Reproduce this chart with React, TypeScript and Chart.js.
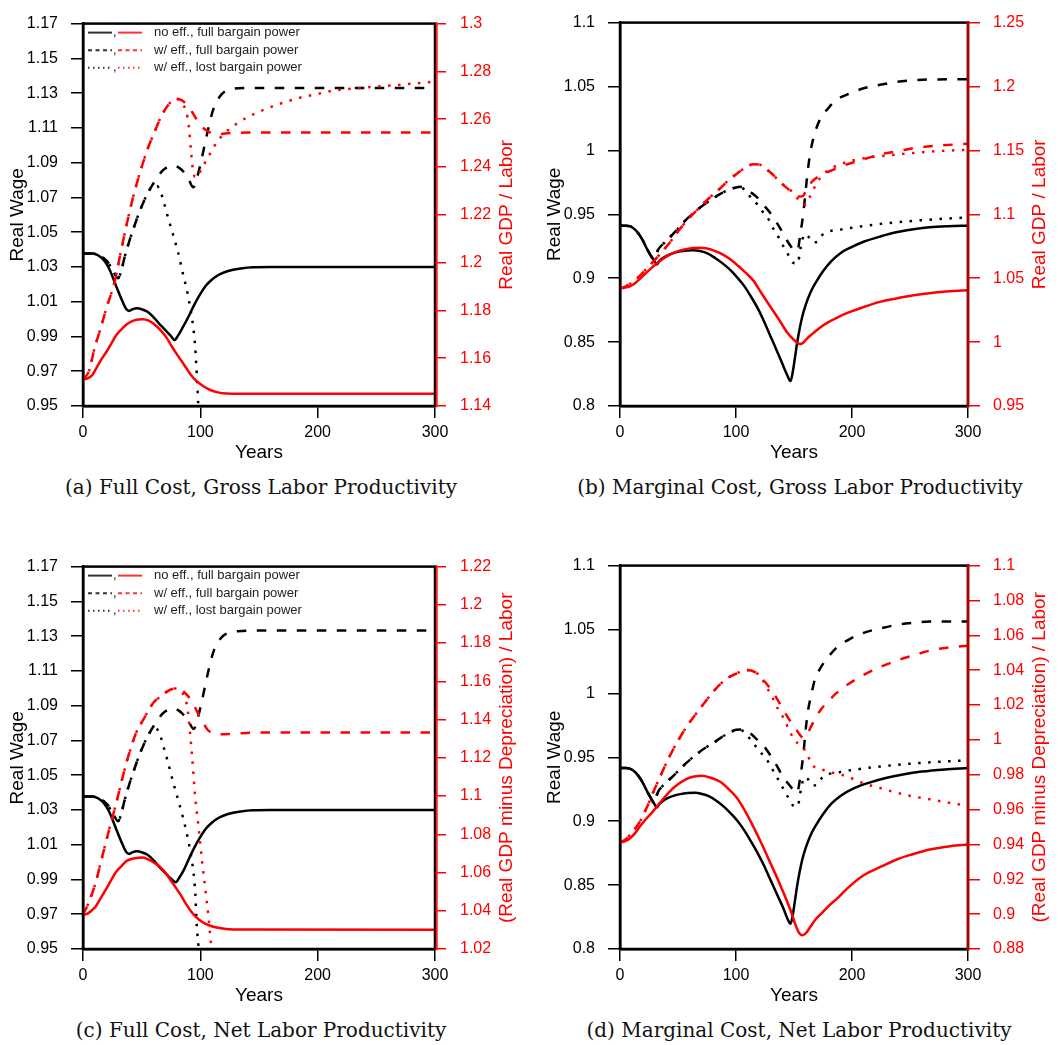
import React, { useEffect, useRef } from "react";
import { Chart, registerables } from "chart.js";

Chart.register(...registerables);

type Pt = [number, number];

// ---------- ticks ----------
const X_TICKS = [0, 100, 200, 300];
const A_LEFT_TICKS = [0.95, 0.97, 0.99, 1.01, 1.03, 1.05, 1.07, 1.09, 1.11, 1.13, 1.15, 1.17];
const A_RIGHT_TICKS = [1.14, 1.16, 1.18, 1.2, 1.22, 1.24, 1.26, 1.28, 1.3];
const B_LEFT_TICKS = [0.8, 0.85, 0.9, 0.95, 1, 1.05, 1.1];
const B_RIGHT_TICKS = [0.95, 1, 1.05, 1.1, 1.15, 1.2, 1.25];
const C_LEFT_TICKS = [0.95, 0.97, 0.99, 1.01, 1.03, 1.05, 1.07, 1.09, 1.11, 1.13, 1.15, 1.17];
const C_RIGHT_TICKS = [1.02, 1.04, 1.06, 1.08, 1.1, 1.12, 1.14, 1.16, 1.18, 1.2, 1.22];
const D_LEFT_TICKS = [0.8, 0.85, 0.9, 0.95, 1, 1.05, 1.1];
const D_RIGHT_TICKS = [0.88, 0.9, 0.92, 0.94, 0.96, 0.98, 1, 1.02, 1.04, 1.06, 1.08, 1.1];

const LEGEND_LABELS = ["no eff., full bargain power", "w/ eff., full bargain power", "w/ eff., lost bargain power"];

// ---------- (a) Full Cost, Gross Labor Productivity ----------
const aWageNoEff: Pt[] = [[0,1.0377],[8,1.0377],[11,1.0372],[14,1.0362],[17,1.0345],[20,1.0318],[23,1.028],[28,1.0195],[33,1.0112],[37,1.0056],[39.5,1.0047],[42,1.0056],[46,1.0062],[50,1.0057],[55,1.0042],[60,1.0012],[65,0.9973],[70,0.9938],[75,0.9902],[78,0.988],[81,0.9905],[85,0.9952],[90,1.0015],[95,1.0085],[100,1.0145],[105,1.0195],[110,1.0228],[115,1.0252],[120,1.0268],[128,1.0284],[136,1.0293],[145,1.0298],[160,1.03],[300,1.03]];
const aWageEffFull: Pt[] = [[0,1.0377],[8,1.0377],[12,1.0372],[15,1.0362],[18,1.0348],[21,1.033],[24,1.0295],[27,1.026],[30,1.0235],[33,1.029],[36,1.037],[40,1.046],[44,1.054],[48,1.0615],[52,1.068],[56,1.0735],[60,1.078],[64,1.0822],[68,1.0855],[72,1.0875],[77,1.0885],[82,1.087],[86,1.0845],[90,1.0805],[94,1.0758],[97,1.081],[100,1.0887],[103,1.098],[106,1.1073],[109,1.116],[112,1.1225],[116,1.1275],[120,1.1305],[125,1.132],[132,1.1328],[150,1.133],[300,1.133]];
const aWageEffLost: Pt[] = [[0,1.0377],[8,1.0377],[12,1.0372],[15,1.0362],[18,1.0348],[21,1.033],[24,1.0295],[27,1.026],[30,1.0235],[33,1.029],[36,1.037],[40,1.046],[44,1.054],[48,1.0615],[52,1.068],[56,1.0735],[60,1.0765],[63,1.0765],[66,1.0735],[69,1.067],[72,1.0595],[77,1.048],[81,1.0386],[85,1.0266],[89,1.0152],[92,1.004],[94,0.995],[95.5,0.985],[96.6,0.973],[97.5,0.961],[98.3,0.95],[100,0.93],[102,0.9]];
const aProdNoEff: Pt[] = [[0,1.1512],[4,1.1516],[8,1.153],[11,1.1555],[15,1.159],[20,1.1627],[24,1.166],[28,1.1694],[33,1.1722],[37,1.1741],[42,1.1755],[47,1.1762],[51,1.1763],[56,1.1757],[62.5,1.1735],[67,1.1712],[71,1.1687],[75,1.1655],[79.5,1.162],[84,1.1588],[88,1.1559],[92,1.153],[96.6,1.1505],[102,1.1485],[108,1.1468],[114,1.1458],[122,1.1452],[135,1.1451],[300,1.1451]];
const aProdEffFull: Pt[] = [[0,1.1512],[5,1.1545],[10,1.1645],[15,1.1725],[20,1.181],[27,1.192],[32,1.204],[37,1.2155],[43,1.228],[50,1.24],[55,1.2475],[60,1.2535],[66,1.2605],[72,1.2655],[79,1.2686],[84,1.268],[88.6,1.2659],[93,1.263],[97,1.2598],[101,1.257],[106,1.2551],[110,1.254],[114,1.2537],[123,1.2541],[140,1.2544],[300,1.2544]];
const aProdEffLost: Pt[] = [[0,1.1512],[5,1.1545],[10,1.1645],[15,1.1725],[20,1.181],[27,1.192],[32,1.204],[37,1.2155],[43,1.228],[50,1.24],[55,1.2475],[60,1.2535],[66,1.2605],[72,1.2655],[79,1.2686],[84,1.267],[87,1.2645],[89,1.261],[90.5,1.2555],[92,1.247],[93.5,1.2395],[95.5,1.2358],[97.5,1.2358],[100,1.2382],[103,1.241],[106,1.2436],[110,1.247],[114,1.2504],[120,1.2538],[128,1.2571],[140,1.2608],[157,1.2645],[170,1.2668],[185,1.269],[200,1.2706],[213,1.2719],[242,1.2733],[270,1.2744],[300,1.2757]];

// ---------- (b) Marginal Cost, Gross Labor Productivity ----------
const bWageNoEff: Pt[] = [[0,0.9411],[5,0.9411],[9,0.9405],[13,0.938],[17,0.9335],[20,0.929],[23,0.9234],[26,0.9185],[29,0.9146],[31.6,0.9108],[34,0.9135],[37,0.9158],[41,0.9178],[46,0.9196],[52,0.921],[58,0.9217],[63,0.9219],[68,0.9214],[75,0.9196],[82,0.9158],[89,0.9112],[95,0.9065],[101,0.9007],[107,0.894],[113,0.8855],[119,0.876],[124,0.8665],[130,0.854],[135,0.8437],[140,0.833],[144,0.8245],[147,0.8195],[149,0.827],[151,0.839],[153,0.851],[155,0.861],[157,0.8695],[160,0.879],[164,0.8885],[169,0.897],[175,0.9055],[182,0.9132],[190,0.9196],[200,0.9245],[210,0.9285],[225,0.9328],[239,0.9361],[253,0.9383],[267,0.9399],[283,0.9407],[300,0.9411]];
const bWageEffFull: Pt[] = [[0,0.9411],[5,0.9411],[9,0.9405],[13,0.938],[17,0.9335],[20,0.929],[23,0.9234],[26,0.9185],[29,0.9146],[33,0.9225],[39,0.9285],[46,0.9348],[52,0.9408],[57.5,0.9462],[64,0.9515],[70.5,0.9563],[78,0.961],[85,0.9652],[92,0.9685],[100,0.971],[104,0.9715],[108,0.9705],[112,0.9677],[118,0.9635],[125,0.956],[130,0.9505],[135,0.9437],[140,0.936],[144,0.9295],[148,0.924],[151,0.9212],[153,0.9215],[155.5,0.935],[158,0.9505],[160,0.968],[162,0.985],[164,0.998],[167,1.0105],[172,1.0235],[180,1.0335],[187,1.0398],[198,1.0445],[210,1.0486],[225,1.0515],[239,1.0537],[253,1.0548],[267,1.0555],[300,1.0556]];
const bWageEffLost: Pt[] = [[0,0.9411],[5,0.9411],[9,0.9405],[13,0.938],[17,0.9335],[20,0.929],[23,0.9234],[26,0.9185],[29,0.9146],[33,0.9225],[39,0.9285],[46,0.9348],[52,0.9408],[57.5,0.9462],[64,0.9515],[70.5,0.9563],[78,0.961],[85,0.9652],[92,0.9685],[100,0.971],[104,0.9712],[108,0.9685],[112,0.964],[118.5,0.9576],[123,0.952],[128,0.9462],[132,0.939],[136.5,0.9323],[141,0.9247],[145,0.9184],[149,0.9122],[153,0.9115],[156,0.925],[159,0.9345],[162,0.933],[166,0.928],[170,0.9285],[174,0.9335],[180,0.9365],[190,0.938],[200,0.9395],[224,0.9424],[253,0.9449],[275,0.9463],[300,0.9475]];
const bProdNoEff: Pt[] = [[0,1.0423],[4,1.0426],[8.6,1.0436],[13,1.046],[17,1.0494],[23,1.0545],[29,1.0595],[36,1.0645],[43,1.0684],[50,1.0712],[57.5,1.0728],[63,1.0736],[69,1.0739],[75,1.0733],[81,1.0716],[88,1.0688],[95,1.0648],[102,1.0595],[108,1.0545],[115,1.0481],[122,1.0382],[129.5,1.0279],[137,1.0177],[144,1.0077],[149,1.0025],[152,1.0],[155,0.9985],[158,0.9995],[161,1.0026],[166,1.0066],[172.6,1.0115],[180,1.0158],[188,1.0195],[196,1.0228],[210,1.0275],[224,1.0315],[240,1.0345],[253,1.0367],[270,1.0387],[285,1.0398],[300,1.0405]];
const bProdEffFull: Pt[] = [[0,1.0423],[4,1.0432],[8.6,1.0456],[13,1.0485],[17,1.0519],[23,1.0575],[29,1.0633],[36,1.0705],[43,1.078],[50,1.0865],[57.5,1.095],[65,1.102],[72,1.1085],[79,1.1145],[86,1.12],[93,1.1262],[100.7,1.1318],[108,1.1365],[115,1.1392],[120,1.139],[124,1.1367],[130,1.1325],[138,1.1253],[144,1.1205],[150,1.1164],[155,1.1139],[158,1.1145],[161,1.1202],[166,1.126],[172.6,1.1303],[180,1.1335],[196,1.1392],[210,1.143],[224,1.1468],[240,1.1495],[253,1.1518],[275,1.1538],[300,1.1552]];
const bProdEffLost: Pt[] = [[0,1.0423],[4,1.0432],[8.6,1.0456],[13,1.0485],[17,1.0519],[23,1.0575],[29,1.0633],[36,1.0705],[43,1.078],[50,1.0865],[57.5,1.095],[65,1.102],[72,1.1085],[79,1.1145],[86,1.12],[93,1.1262],[100.7,1.1318],[108,1.1365],[115,1.1392],[120,1.139],[124,1.1367],[130,1.1325],[138,1.1253],[144,1.1205],[148,1.118],[152,1.1135],[155,1.1105],[158,1.108],[160,1.1075],[162,1.11],[164,1.1145],[167,1.12],[172.6,1.1285],[180,1.1348],[190,1.1392],[200,1.142],[215,1.1445],[230,1.146],[253,1.148],[275,1.1495],[300,1.1505]];

// ---------- (c) Full Cost, Net Labor Productivity ----------
const cWageNoEff: Pt[] = [[0,1.0377],[8,1.0377],[11,1.0372],[14,1.0362],[17,1.0345],[20,1.0318],[23,1.028],[28,1.0195],[33,1.0112],[37,1.0056],[39.5,1.0047],[42,1.0056],[46,1.0062],[50,1.0057],[55,1.0042],[60,1.0012],[65,0.9973],[70,0.9938],[75,0.9905],[79,0.9884],[82,0.991],[86,0.9955],[90,1.0015],[95,1.0085],[100,1.0145],[105,1.0195],[110,1.0228],[115,1.0252],[120,1.0268],[128,1.0284],[136,1.0293],[145,1.0298],[160,1.03],[300,1.03]];
const cWageEffFull: Pt[] = [[0,1.0377],[8,1.0377],[12,1.0372],[15,1.0362],[18,1.0348],[21,1.033],[24,1.0295],[27,1.026],[30,1.0235],[33,1.029],[36,1.037],[40,1.046],[44,1.054],[48,1.0615],[52,1.068],[56,1.0735],[60,1.078],[64,1.0822],[68,1.0855],[72,1.0875],[77,1.0885],[82,1.087],[86,1.0845],[90,1.0808],[94.5,1.0765],[97,1.081],[100,1.0887],[103,1.098],[106,1.1073],[109,1.116],[112,1.1225],[116,1.1275],[120,1.1305],[125,1.132],[132,1.1328],[150,1.1333],[300,1.1333]];
const cWageEffLost: Pt[] = [[0,1.0377],[8,1.0377],[12,1.0372],[15,1.0362],[18,1.0348],[21,1.033],[24,1.0295],[27,1.026],[30,1.0235],[33,1.029],[36,1.037],[40,1.046],[44,1.054],[48,1.0615],[52,1.068],[56,1.0735],[60,1.0768],[63,1.0765],[66,1.0725],[69,1.0655],[72,1.0585],[77,1.0455],[81,1.036],[85,1.0262],[89,1.0148],[92,1.004],[94,0.995],[95.7,0.982],[97,0.9626],[98.5,0.951],[100,0.93],[102,0.9]];
const cProdNoEff: Pt[] = [[0,1.0378],[4,1.0385],[8,1.0405],[11,1.0424],[15,1.0465],[20,1.0517],[24,1.056],[28,1.0601],[33,1.0635],[37,1.066],[42,1.0672],[47,1.0677],[51,1.0678],[56,1.0668],[62.5,1.0644],[67,1.0622],[71,1.0593],[75,1.0557],[79.5,1.0517],[84,1.0475],[88,1.0433],[92,1.0398],[96.6,1.0365],[102,1.034],[108,1.0323],[114,1.0312],[122,1.0305],[135,1.0302],[300,1.0301]];
const cProdEffFull: Pt[] = [[0,1.0378],[4,1.043],[8,1.0495],[11,1.0551],[15,1.065],[20,1.077],[24,1.0865],[28,1.0955],[33,1.108],[37,1.1175],[41,1.1255],[45,1.1327],[50,1.1385],[54,1.1428],[58,1.147],[61,1.1495],[66,1.152],[71.5,1.1546],[76,1.156],[80,1.1563],[84,1.1555],[88.6,1.1529],[93,1.1492],[97,1.1445],[100,1.1408],[103,1.1377],[106,1.1348],[110,1.133],[117,1.1323],[128,1.1326],[150,1.1332],[300,1.1332]];
const cProdEffLost: Pt[] = [[0,1.0378],[4,1.043],[8,1.0495],[11,1.0551],[15,1.065],[20,1.077],[24,1.0865],[28,1.0955],[33,1.108],[37,1.1175],[41,1.1255],[45,1.1327],[50,1.1385],[54,1.1428],[58,1.147],[61,1.1495],[66,1.152],[71.5,1.1546],[76,1.156],[80,1.1563],[84,1.1545],[87,1.151],[89,1.146],[91,1.1345],[93,1.1205],[95.7,1.0989],[98.5,1.0837],[101.3,1.0669],[104.2,1.0517],[107,1.0365],[109,1.023],[111,1.011],[113,0.998]];

// ---------- (d) Marginal Cost, Net Labor Productivity ----------
const dWageNoEff: Pt[] = [[0,0.9416],[5,0.9416],[9,0.941],[13,0.9385],[17,0.934],[20,0.9295],[23,0.924],[26,0.919],[29,0.9145],[31.6,0.9108],[34,0.9135],[37,0.9158],[41,0.918],[46,0.9198],[52,0.9212],[58,0.922],[64.7,0.9222],[70,0.9215],[77,0.9195],[84,0.9155],[90,0.911],[95,0.9065],[101,0.9005],[107,0.893],[113,0.884],[119,0.8745],[124,0.8655],[130,0.8535],[136,0.8415],[141,0.8315],[144,0.8245],[147,0.8197],[149,0.827],[151,0.839],[153,0.851],[155,0.861],[157,0.8695],[160,0.879],[164,0.8885],[169,0.897],[175,0.9055],[182,0.9135],[190,0.9198],[201,0.9255],[215,0.9302],[230,0.934],[245,0.9368],[260,0.9388],[280,0.9405],[300,0.9416]];
const dWageEffFull: Pt[] = [[0,0.9416],[5,0.9416],[9,0.941],[13,0.9385],[17,0.934],[20,0.9295],[23,0.924],[26,0.919],[29,0.9145],[33,0.9234],[39,0.9295],[46,0.9355],[52,0.941],[57.5,0.9458],[64,0.951],[72,0.9565],[80,0.961],[88,0.966],[95,0.9695],[100,0.9715],[104,0.9718],[108,0.9708],[112,0.969],[118,0.964],[124,0.9588],[130,0.951],[135,0.9437],[141,0.934],[147,0.9272],[150,0.9235],[152.5,0.9222],[155.5,0.935],[158,0.952],[160,0.971],[162,0.986],[165,0.9993],[168,1.011],[172.6,1.0196],[180,1.029],[187,1.036],[198,1.0425],[210,1.0474],[225,1.051],[239,1.0537],[253,1.0552],[267,1.0562],[300,1.0562]];
const dWageEffLost: Pt[] = [[0,0.9416],[5,0.9416],[9,0.941],[13,0.9385],[17,0.934],[20,0.9295],[23,0.924],[26,0.919],[29,0.9145],[33,0.9234],[39,0.9295],[46,0.9355],[52,0.941],[57.5,0.9458],[64,0.951],[72,0.9565],[80,0.961],[88,0.966],[95,0.9695],[100,0.9715],[104,0.9715],[108,0.9688],[112,0.9645],[118,0.9575],[123,0.952],[128,0.9462],[132,0.9395],[136.5,0.9325],[141,0.925],[145,0.9185],[149,0.9125],[153,0.9115],[156,0.925],[159,0.9345],[162,0.933],[166,0.928],[170,0.9285],[174,0.9338],[180,0.9368],[190,0.9385],[200,0.94],[224,0.9428],[253,0.9452],[275,0.9465],[300,0.9476]];
const dProdNoEff: Pt[] = [[0,0.9412],[4,0.9418],[8.6,0.9436],[13,0.9465],[17,0.9501],[23,0.955],[29,0.9594],[36,0.9652],[43,0.9705],[50,0.9745],[57.5,0.9776],[64,0.979],[70.5,0.9794],[77,0.9785],[86,0.9761],[93,0.9722],[100.7,0.9668],[108,0.959],[115,0.9501],[122,0.9405],[129.4,0.9297],[137,0.9185],[144,0.9074],[148,0.9005],[151,0.8944],[154,0.8897],[157,0.8879],[160,0.889],[164,0.8926],[168,0.8965],[173,0.9],[180,0.9048],[188,0.9095],[196,0.9148],[210,0.9223],[225,0.9272],[239,0.9315],[253,0.9345],[267,0.9371],[285,0.939],[300,0.9399]];
const dProdEffFull: Pt[] = [[0,0.9412],[4,0.9425],[8.6,0.9455],[13,0.949],[17,0.9529],[23,0.961],[29,0.9705],[36,0.981],[43,0.9909],[50,0.9995],[57.5,1.0076],[65,1.0145],[72,1.0206],[79,1.0265],[86,1.0317],[93,1.0355],[100.7,1.0382],[105,1.0395],[109,1.0401],[113,1.0398],[118,1.0382],[123,1.0348],[129,1.0299],[135,1.024],[141,1.0169],[147,1.0105],[152,1.0058],[155,1.003],[158,1.0011],[161,1.0025],[164,1.0067],[168,1.0118],[172.6,1.0169],[180,1.0225],[187,1.0271],[198,1.0325],[210,1.0373],[225,1.042],[239,1.0456],[253,1.0485],[267,1.0512],[283,1.053],[300,1.054]];
const dProdEffLost: Pt[] = [[0,0.9412],[4,0.9425],[8.6,0.9455],[13,0.949],[17,0.9529],[23,0.961],[29,0.9705],[36,0.981],[43,0.9909],[50,0.9995],[57.5,1.0076],[65,1.0145],[72,1.0206],[79,1.0265],[86,1.0317],[93,1.0355],[100.7,1.0382],[105,1.0395],[109,1.0401],[113,1.0398],[118,1.0382],[122,1.0355],[125,1.032],[129,1.0272],[132,1.0235],[136,1.018],[141,1.0125],[145,1.0068],[150,1.0003],[155,0.997],[158,0.9955],[161,0.992],[164,0.988],[167,0.9848],[174,0.983],[181,0.9816],[196,0.9789],[210,0.9751],[225,0.9722],[239,0.9696],[253,0.9675],[267,0.9659],[283,0.964],[300,0.9622]];

// ---------- layout / styling ----------
const SANS = "'Liberation Sans', Arial, Helvetica, sans-serif";
const SERIF = "'DejaVu Serif', 'Liberation Serif', serif";
const RED = "#ff0000";
const BLACK = "#000000";

interface PanelDef {
  key: string;
  left: number; top: number; width: number; height: number;
  plotLeft: number; plotRight: number; plotTop: number; plotBottom: number;
  leftTicks: number[]; rightTicks: number[];
  leftTitlePad: number;
  rightTitle: string; rightTitleX: number;
  rightTickLen: number; rightTickPad: number;
  rightLineOffset: number; rightLineColor: string; rightLineWidth: number;
  wage: Pt[][]; prod: Pt[][];
  legend: boolean;
  caption: string; captionX: number; captionY: number;
}

const PANELS: PanelDef[] = [
  {
    key: "a", left: 0, top: 0, width: 529, height: 470,
    plotLeft: 83, plotRight: 435, plotTop: 10.7, plotBottom: 406,
    leftTicks: A_LEFT_TICKS, rightTicks: A_RIGHT_TICKS, leftTitlePad: 6.3,
    rightTitle: "Real GDP / Labor", rightTitleX: 506.7,
    rightTickLen: 11, rightTickPad: 14, rightLineOffset: 1.7, rightLineColor: "#ff1a1a", rightLineWidth: 2,
    wage: [aWageNoEff, aWageEffFull, aWageEffLost], prod: [aProdNoEff, aProdEffFull, aProdEffLost],
    legend: true, caption: "(a) Full Cost, Gross Labor Productivity", captionX: 261, captionY: 487,
  },
  {
    key: "b", left: 529, top: 0, width: 529, height: 470,
    plotLeft: 91, plotRight: 439, plotTop: 10.7, plotBottom: 406,
    leftTicks: B_LEFT_TICKS, rightTicks: B_RIGHT_TICKS, leftTitlePad: 14.6,
    rightTitle: "Real GDP / Labor", rightTitleX: 511,
    rightTickLen: 12, rightTickPad: 13, rightLineOffset: 0, rightLineColor: "#b00000", rightLineWidth: 2.5,
    wage: [bWageNoEff, bWageEffFull, bWageEffLost], prod: [bProdNoEff, bProdEffFull, bProdEffLost],
    legend: false, caption: "(b) Marginal Cost, Gross Labor Productivity", captionX: 800, captionY: 487,
  },
  {
    key: "c", left: 0, top: 543, width: 529, height: 470,
    plotLeft: 83, plotRight: 435, plotTop: 11, plotBottom: 406,
    leftTicks: C_LEFT_TICKS, rightTicks: C_RIGHT_TICKS, leftTitlePad: 6.3,
    rightTitle: "(Real GDP minus Depreciation) / Labor", rightTitleX: 506.7,
    rightTickLen: 11, rightTickPad: 14, rightLineOffset: 1.7, rightLineColor: "#ff1a1a", rightLineWidth: 2,
    wage: [cWageNoEff, cWageEffFull, cWageEffLost], prod: [cProdNoEff, cProdEffFull, cProdEffLost],
    legend: true, caption: "(c) Full Cost, Net Labor Productivity", captionX: 261, captionY: 1030,
  },
  {
    key: "d", left: 529, top: 543, width: 529, height: 470,
    plotLeft: 91, plotRight: 439, plotTop: 11, plotBottom: 406,
    leftTicks: D_LEFT_TICKS, rightTicks: D_RIGHT_TICKS, leftTitlePad: 14.6,
    rightTitle: "(Real GDP minus Depreciation) / Labor", rightTitleX: 511,
    rightTickLen: 12, rightTickPad: 13, rightLineOffset: 0, rightLineColor: "#b00000", rightLineWidth: 2.5,
    wage: [dWageNoEff, dWageEffFull, dWageEffLost], prod: [dProdNoEff, dProdEffFull, dProdEffLost],
    legend: false, caption: "(d) Marginal Cost, Net Labor Productivity", captionX: 799, captionY: 1030,
  },
];

const fmt = (v: any) => String(Number(Number(v).toFixed(4)));

function PanelChart({ p }: { p: PanelDef }) {
  const ref = useRef<HTMLCanvasElement | null>(null);

  useEffect(() => {
    const canvas = ref.current;
    if (!canvas) return;
    const dashes = [[], [9.5, 10.5], [2.5, 7.5]];
    const mk = (pts: Pt[], color: string, i: number, axis: string) => ({
      data: pts.map(([x, y]) => ({ x, y })),
      borderColor: color,
      backgroundColor: color,
      borderWidth: 2.5,
      borderDash: dashes[i],
      borderCapStyle: "butt",
      borderJoinStyle: "round",
      pointRadius: 0,
      pointHoverRadius: 0,
      fill: false,
      cubicInterpolationMode: "monotone",
      xAxisID: "x",
      yAxisID: axis,
    });
    // index 0 is drawn last (on top): red first
    const datasets = [
      ...p.prod.map((s, i) => mk(s, RED, i, "y2")),
      ...p.wage.map((s, i) => mk(s, BLACK, i, "y")),
    ];

    const tickFont = { family: SANS, size: 16 };
    const titleFont = { family: SANS, size: 19 };

    const framePlugin = {
      id: "frame" + p.key,
      afterDatasetsDraw(chart: any) {
        const { ctx, chartArea: a } = chart;
        ctx.save();
        ctx.setLineDash([]);
        ctx.strokeStyle = BLACK;
        ctx.lineWidth = 2.5;
        ctx.strokeRect(a.left, a.top, a.right - a.left, a.bottom - a.top);
        ctx.strokeStyle = p.rightLineColor;
        ctx.lineWidth = p.rightLineWidth;
        ctx.beginPath();
        ctx.moveTo(a.right + p.rightLineOffset, a.top - 1.25);
        ctx.lineTo(a.right + p.rightLineOffset, a.bottom + 1.25);
        ctx.stroke();
        ctx.restore();

        // right axis title (reads bottom-to-top)
        ctx.save();
        ctx.translate(p.rightTitleX, (a.top + a.bottom) / 2);
        ctx.rotate(-Math.PI / 2);
        ctx.fillStyle = RED;
        ctx.font = `19px ${SANS}`;
        ctx.textAlign = "center";
        ctx.textBaseline = "middle";
        ctx.fillText(p.rightTitle, 0, 0);
        ctx.restore();

        if (p.legend) {
          const ldash = [[], [4, 3.5], [1.5, 3.5]];
          ctx.save();
          LEGEND_LABELS.forEach((label, i) => {
            const y = a.top + 9 + i * 17.6;
            ctx.lineWidth = 2;
            ctx.setLineDash(ldash[i]);
            ctx.strokeStyle = "#333333";
            ctx.beginPath();
            ctx.moveTo(88, y);
            ctx.lineTo(112, y);
            ctx.stroke();
            ctx.strokeStyle = "#ff3333";
            ctx.beginPath();
            ctx.moveTo(118, y);
            ctx.lineTo(142, y);
            ctx.stroke();
            ctx.setLineDash([]);
            ctx.fillStyle = "#222222";
            ctx.font = `13px ${SANS}`;
            ctx.textAlign = "left";
            ctx.textBaseline = "middle";
            ctx.fillText(",", 113, y);
            ctx.fillText(label, 154, y);
          });
          ctx.restore();
        }
      },
    };

    const chart = new Chart(canvas, {
      type: "line",
      data: { datasets } as any,
      options: {
        responsive: false,
        animation: false,
        events: [],
        layout: { padding: { top: p.plotTop, left: 0, right: 0, bottom: 0 } },
        plugins: { legend: { display: false }, tooltip: { enabled: false }, title: { display: false } },
        scales: {
          x: {
            type: "linear",
            position: "bottom",
            min: 0,
            max: 300,
            afterBuildTicks: (s: any) => { s.ticks = X_TICKS.map((v) => ({ value: v })); },
            afterFit: (s: any) => { s.height = p.height - p.plotBottom; },
            ticks: { color: BLACK, font: tickFont, padding: 5.4, maxRotation: 0, autoSkip: false, callback: fmt },
            grid: { drawOnChartArea: false, drawTicks: true, tickLength: 12, tickColor: BLACK, tickWidth: 1.5, color: BLACK, lineWidth: 1.5 },
            border: { display: true, color: BLACK, width: 2.5 },
            title: { display: true, text: "Years", color: BLACK, font: titleFont, padding: { top: 0, bottom: 5.6 } },
          },
          y: {
            type: "linear",
            position: "left",
            min: p.leftTicks[0],
            max: p.leftTicks[p.leftTicks.length - 1],
            afterBuildTicks: (s: any) => { s.ticks = p.leftTicks.map((v) => ({ value: v })); },
            afterFit: (s: any) => { s.width = p.plotLeft; },
            ticks: { color: BLACK, font: tickFont, padding: 13, autoSkip: false, callback: fmt },
            grid: { drawOnChartArea: false, drawTicks: true, tickLength: 12, tickColor: BLACK, tickWidth: 1.5, color: BLACK, lineWidth: 1.5 },
            border: { display: true, color: BLACK, width: 2.5 },
            title: { display: true, text: "Real Wage", color: BLACK, font: titleFont, padding: { top: p.leftTitlePad, bottom: 0 } },
          },
          y2: {
            type: "linear",
            position: "right",
            min: p.rightTicks[0],
            max: p.rightTicks[p.rightTicks.length - 1],
            afterBuildTicks: (s: any) => { s.ticks = p.rightTicks.map((v) => ({ value: v })); },
            afterFit: (s: any) => { s.width = p.width - p.plotRight; },
            ticks: { color: RED, font: tickFont, padding: p.rightTickPad, autoSkip: false, callback: fmt },
            grid: { drawOnChartArea: false, drawTicks: true, tickLength: p.rightTickLen, tickColor: RED, tickWidth: 1.5, color: RED, lineWidth: 1.5 },
            border: { display: false },
            title: { display: false },
          },
        },
      } as any,
      plugins: [framePlugin],
    });
    return () => chart.destroy();
  }, [p]);

  return (
    <canvas
      ref={ref}
      width={p.width}
      height={p.height}
      style={{ position: "absolute", left: p.left, top: p.top, width: p.width, height: p.height }}
    />
  );
}

export default function App() {
  return (
    <div style={{ position: "absolute", left: 0, top: 0, width: 1058, height: 1045, background: "#ffffff", overflow: "hidden" }}>
      {PANELS.map((p) => (
        <React.Fragment key={p.key}>
          <PanelChart p={p} />
          <div
            style={{
              position: "absolute",
              left: p.captionX - 300,
              width: 600,
              top: p.captionY - 14,
              height: 28,
              lineHeight: "28px",
              textAlign: "center",
              fontFamily: SERIF,
              fontSize: 20,
              color: "#111111",
              whiteSpace: "nowrap",
            }}
          >
            {p.caption}
          </div>
        </React.Fragment>
      ))}
    </div>
  );
}
